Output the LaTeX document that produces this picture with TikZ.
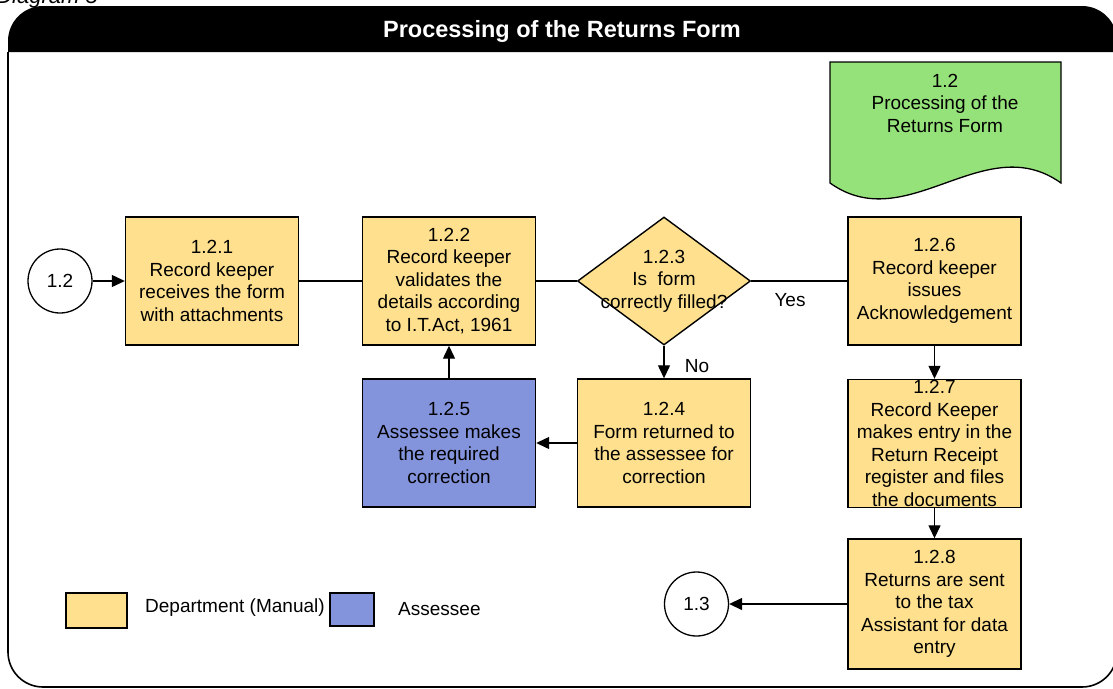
\documentclass[tikz,border=0pt]{standalone}
\usepackage{fontspec}
\setmainfont{Liberation Sans}
\usetikzlibrary{shapes.geometric,arrows.meta}
\definecolor{procyellow}{RGB}{254,224,142}
\definecolor{assblue}{RGB}{132,148,220}
\definecolor{docgreen}{RGB}{150,226,122}
\begin{document}
\begin{tikzpicture}[x=1pt,y=-1pt,
  every node/.style={font=\fontsize{19}{22.5}\selectfont, inner sep=0pt},
  procbox/.style={draw, line width=1.4pt, fill=procyellow, minimum width=173, minimum height=128, align=center},
  assbox/.style={procbox, fill=assblue},
  decision/.style={diamond, draw, line width=1.4pt, fill=procyellow, minimum width=173, minimum height=128},
  offpage/.style={circle, draw, line width=1.3pt, fill=white, minimum size=64},
  flow/.style={line width=1.3pt, -{Triangle[length=13pt,width=12pt]}},
  plainline/.style={line width=1.3pt},
  lbl/.style={align=center}
]
\useasboundingbox (0,0) rectangle (1113,688);

% caption cut at top
\node[anchor=base east, font=\itshape\fontsize{22}{26}\selectfont] (dg) at (98,4) {Diagram 5};

% frame and header band
\draw[line width=1.6pt, rounded corners=35pt] (8,52) -- (8,687) -- (1117,687) -- (1117,52);
\fill[black] (8,52) -- (8,41) .. controls (8,21.7) and (23.7,6) .. (43,6) -- (1082,6)
  .. controls (1101.3,6) and (1117,21.7) .. (1117,41) -- (1117,52) -- cycle;
\node[anchor=base, text=white, font=\bfseries\fontsize{23.5}{28}\selectfont] (title) at (562,37) {Processing of the Returns Form};

% document shape
\filldraw[fill=docgreen, line width=1.3pt] (830,62) -- (1061,62) -- (1061,183)
  .. controls (984,128) and (907,238) .. (830,183) -- cycle;
\node[lbl] (doc) at (945,103) {1.2\\Processing of the\\Returns Form};

% nodes
\node[offpage] (c12) at (60,281) {1.2};
\node[procbox] (b1) at (212,281) {1.2.1\\Record keeper\\receives the form\\with attachments};
\node[procbox] (b2) at (449,281) {1.2.2\\Record keeper\\validates the\\details according\\to I.T.Act, 1961};
\node[decision] (d3) at (664,281) {};
\node[lbl] (d3t) at (664,281) {1.2.3\\Is~ form\\correctly filled?};
\node[procbox] (b6) at (934.5,281) {1.2.6\\Record keeper\\issues\\Acknowledgement};
\node[procbox] (b4) at (664,443) {1.2.4\\Form returned to\\the assessee for\\correction};
\node[assbox] (b5) at (449,443) {1.2.5\\Assessee makes\\the required\\correction};
\node[procbox] (b7) at (934.5,443.5) {1.2.7\\Record Keeper\\makes entry in the\\Return Receipt\\register and files\\the documents};
\node[procbox, minimum height=130] (b8) at (934.5,604) {1.2.8\\Returns are sent\\to the tax\\Assistant for data\\entry};
\node[offpage] (c13) at (696.5,604) {1.3};

% connectors
\draw[flow] (c12) -- (b1);
\draw[plainline] (b1) -- (b2);
\draw[plainline] (b2) -- (d3);
\draw[plainline] (d3) -- (b6);
\draw[flow] (d3) -- (b4);
\draw[flow] (b4) -- (b5);
\draw[flow] (b5) -- (b2);
\draw[flow] (b6) -- (b7);
\draw[flow] (b7) -- (b8);
\draw[flow] (b8) -- (c13);

% labels
\node (yes) at (790,300) {Yes};
\node (no) at (697,366) {No};

% legend
\node[draw, line width=1.4pt, fill=procyellow, minimum width=61, minimum height=35] (ly) at (96.5,610.5) {};
\node[anchor=west] (lyt) at (145,608) {Department (Manual)};
\node[draw, line width=1.4pt, fill=assblue, minimum width=44, minimum height=33] (lb) at (352,609.5) {};
\node[anchor=west] (lbt) at (398,609) {Assessee};
\end{tikzpicture}
\end{document}
